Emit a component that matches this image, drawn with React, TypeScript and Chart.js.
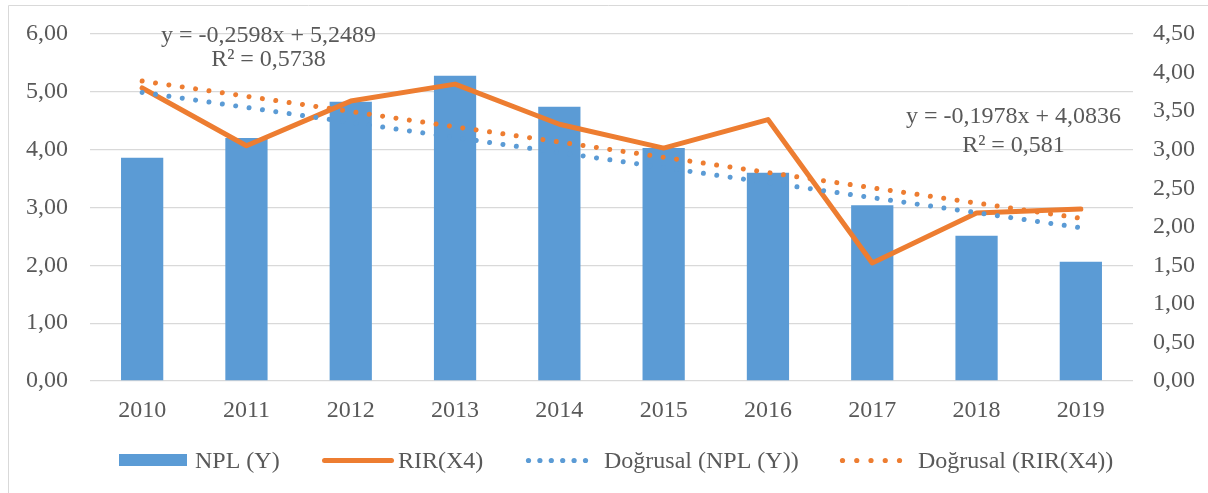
import { useEffect, useRef } from 'react';
import { Chart, registerables } from 'chart.js';

Chart.register(...registerables);

const categories = ['2010', '2011', '2012', '2013', '2014', '2015', '2016', '2017', '2018', '2019'];
const nplValues = [3.86, 4.2, 4.83, 5.28, 4.74, 4.03, 3.6, 3.04, 2.51, 2.06];
const rirValues = [3.8, 3.05, 3.63, 3.85, 3.33, 3.02, 3.39, 1.53, 2.18, 2.23];
const nplTrend = [4.99, null, null, null, null, null, null, null, null, 2.65];
const rirTrend = [3.89, null, null, null, null, null, null, null, null, 2.11];
const legendLabels = ['NPL (Y)', 'RIR(X4)', 'Doğrusal (NPL (Y))', 'Doğrusal (RIR(X4))'];
const nplNote = ['y = -0,2598x + 5,2489', 'R² = 0,5738'];
const rirNote = ['y = -0,1978x + 4,0836', 'R² = 0,581'];

const BLUE = '#5B9BD5';
const ORANGE = '#ED7D31';
const TEXT = '#595959';
const GRID = '#D9D9D9';
const FONT_FAMILY = "'Liberation Serif', 'Times New Roman', serif";
const FONT = `24px ${FONT_FAMILY}`;

const fmt = (v: number) => v.toFixed(2).replace('.', ',');

const decorPlugin = {
  id: 'decor',
  afterDraw(chart: any) {
    const ctx = chart.ctx as CanvasRenderingContext2D;
    ctx.save();
    // outer frame (top and left visible)
    ctx.strokeStyle = GRID;
    ctx.lineWidth = 1;
    ctx.beginPath();
    ctx.moveTo(0.5, chart.height);
    ctx.lineTo(0.5, 0.5);
    ctx.lineTo(chart.width, 0.5);
    ctx.stroke();

    ctx.font = FONT;
    ctx.fillStyle = TEXT;
    ctx.textBaseline = 'alphabetic';
    ctx.textAlign = 'center';
    // trend notes
    ctx.fillText(nplNote[0], 260.5, 37);
    ctx.fillText(nplNote[1], 260.5, 61);
    ctx.fillText(rirNote[0], 1005.5, 118);
    ctx.fillText(rirNote[1], 1005.5, 147);

    // legend
    const cy = 455.5;
    const base = 463;
    ctx.textAlign = 'left';
    ctx.fillStyle = BLUE;
    ctx.fillRect(111, 449, 68, 12);
    ctx.fillStyle = TEXT;
    ctx.fillText(legendLabels[0], 187, base);

    ctx.strokeStyle = ORANGE;
    ctx.lineWidth = 5;
    ctx.lineCap = 'round';
    ctx.beginPath();
    ctx.moveTo(316.5, cy);
    ctx.lineTo(383.5, cy);
    ctx.stroke();
    ctx.fillText(legendLabels[1], 390, base);

    ctx.fillStyle = BLUE;
    for (let i = 0; i < 6; i++) {
      ctx.beginPath();
      ctx.arc(520.5 + i * 11.4, cy, 2.6, 0, Math.PI * 2);
      ctx.fill();
    }
    ctx.fillStyle = TEXT;
    ctx.fillText(legendLabels[2], 596, base);

    ctx.fillStyle = ORANGE;
    for (let i = 0; i < 5; i++) {
      ctx.beginPath();
      ctx.arc(834.5 + i * 14.25, cy, 2.6, 0, Math.PI * 2);
      ctx.fill();
    }
    ctx.fillStyle = TEXT;
    ctx.fillText(legendLabels[3], 910, base);
    ctx.restore();
  },
};

export default function App() {
  const ref = useRef<HTMLCanvasElement | null>(null);

  useEffect(() => {
    if (!ref.current) return;
    const tickFont = { family: FONT_FAMILY, size: 24 };
    const chart = new Chart(ref.current, {
      type: 'bar',
      data: {
        labels: categories,
        datasets: [
          {
            type: 'bar',
            label: legendLabels[0],
            data: nplValues,
            backgroundColor: BLUE,
            yAxisID: 'y',
            order: 4,
            categoryPercentage: 1,
            barPercentage: 0.405,
          },
          {
            type: 'line',
            label: legendLabels[1],
            data: rirValues,
            borderColor: ORANGE,
            backgroundColor: ORANGE,
            borderWidth: 5,
            borderJoinStyle: 'round',
            borderCapStyle: 'round',
            pointRadius: 0,
            tension: 0,
            yAxisID: 'y1',
            order: 3,
          },
          {
            type: 'line',
            label: legendLabels[2],
            data: nplTrend,
            borderColor: BLUE,
            borderWidth: 5,
            borderDash: [0.001, 13.5],
            borderCapStyle: 'round',
            pointRadius: 0,
            spanGaps: true,
            yAxisID: 'y',
            order: 2,
          },
          {
            type: 'line',
            label: legendLabels[3],
            data: rirTrend,
            borderColor: ORANGE,
            borderWidth: 5,
            borderDash: [0.001, 13.5],
            borderCapStyle: 'round',
            pointRadius: 0,
            spanGaps: true,
            yAxisID: 'y1',
            order: 1,
          },
        ] as any,
      },
      options: {
        animation: false,
        responsive: false,
        maintainAspectRatio: false,
        layout: { padding: { top: 29, bottom: 62, left: 0, right: 0 } },
        plugins: {
          legend: { display: false },
          tooltip: { enabled: false },
        },
        scales: {
          x: {
            grid: { display: false },
            border: { display: false },
            ticks: { font: tickFont, color: TEXT, padding: 7 },
            afterFit: (s: any) => {
              s.height = 50;
            },
          },
          y: {
            position: 'left',
            min: 0,
            max: 6,
            ticks: { stepSize: 1, font: tickFont, color: TEXT, padding: 22, callback: (v: any) => fmt(Number(v)) },
            grid: { color: GRID, lineWidth: 1.3, drawTicks: false },
            border: { display: false },
            afterFit: (s: any) => {
              s.width = 82;
              s.paddingTop = 0;
              s.paddingBottom = 0;
            },
          },
          y1: {
            position: 'right',
            min: 0,
            max: 4.5,
            ticks: { stepSize: 0.5, font: tickFont, color: TEXT, padding: 20, callback: (v: any) => fmt(Number(v)) },
            grid: { display: false, drawTicks: false },
            border: { display: false },
            afterFit: (s: any) => {
              s.width = 75;
              s.paddingTop = 0;
              s.paddingBottom = 0;
            },
          },
        },
      } as any,
      plugins: [decorPlugin],
    });
    return () => chart.destroy();
  }, []);

  return (
    <div style={{ position: 'absolute', left: 8, top: 5, width: 1200, height: 488 }}>
      <canvas ref={ref} width={1200} height={488} style={{ display: 'block', width: 1200, height: 488 }} />
    </div>
  );
}
